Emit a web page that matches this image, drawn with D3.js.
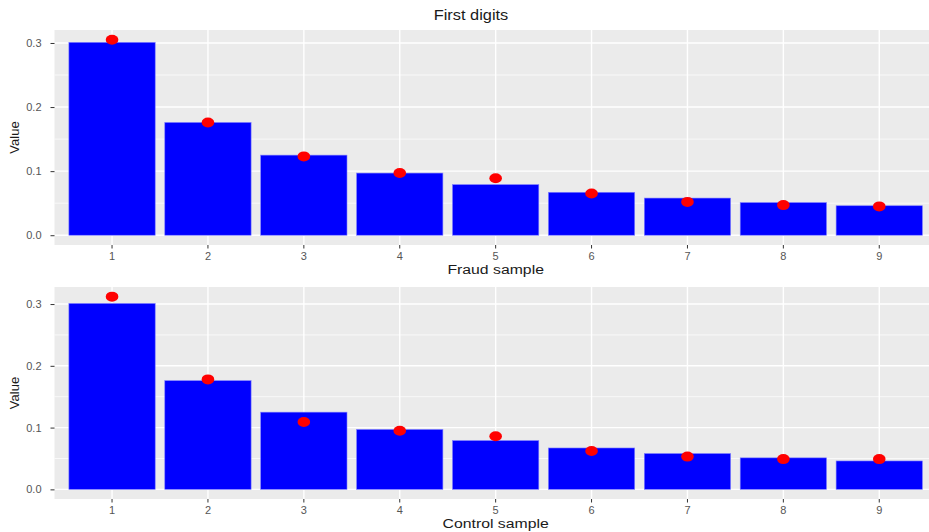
<!DOCTYPE html>
<html>
<head>
<meta charset="utf-8">
<script src="https://cdn.jsdelivr.net/npm/d3@7"></script>
<style>
  body { margin: 0; background: #fff; }
  svg { display: block; font-family: "Liberation Sans", Arial, sans-serif; }
</style>
</head>
<body>
<div id="chart"></div>
<script>
// data
let digits = ["1", "2", "3", "4", "5", "6", "7", "8", "9"];
let benford = [0.301, 0.176, 0.125, 0.097, 0.079, 0.067, 0.058, 0.051, 0.046];
let fraudObserved = [0.305, 0.176, 0.123, 0.097, 0.089, 0.065, 0.052, 0.047, 0.045];
let controlObserved = [0.312, 0.178, 0.109, 0.095, 0.086, 0.062, 0.053, 0.049, 0.049];
let yTicks = [0, 0.1, 0.2, 0.3];
let yMinor = [0.05, 0.15, 0.25];

let W = 929, H = 532;
let stretch = 1.17; // the reference is a little wider than tall

let svg = d3.select("#chart").append("svg")
    .attr("width", W)
    .attr("height", H);

function stretchedText(g, x, y, str, size) {
    return g.append("text")
        .attr("transform", "translate(" + x + "," + y + ") scale(" + stretch + ",1)")
        .attr("text-anchor", "middle")
        .attr("font-size", size)
        .attr("fill", "#1a1a1a")
        .text(str);
}

function drawPanel(top, bottom, observed, xTitle) {
    let left = 54.5, right = 936.8;

    let x = d3.scaleBand()
        .domain(digits)
        .range([left, right])
        .paddingInner(0.1)
        .paddingOuter(0.15);

    let ymax = d3.max(benford.concat(observed));
    let pad = ymax * 0.05;
    let y = d3.scaleLinear()
        .domain([-pad, ymax + pad])
        .range([bottom, top]);

    let g = svg.append("g");

    g.append("rect")
        .attr("x", left)
        .attr("y", top)
        .attr("width", right - left)
        .attr("height", bottom - top)
        .attr("fill", "#ebebeb");

    // grid
    g.selectAll(".minor").data(yMinor).enter().append("line")
        .attr("x1", left).attr("x2", right)
        .attr("y1", d => y(d)).attr("y2", d => y(d))
        .attr("stroke", "#fff").attr("stroke-width", 0.7);
    g.selectAll(".major").data(yTicks).enter().append("line")
        .attr("x1", left).attr("x2", right)
        .attr("y1", d => y(d)).attr("y2", d => y(d))
        .attr("stroke", "#fff").attr("stroke-width", 1.4);
    g.selectAll(".vgrid").data(digits).enter().append("line")
        .attr("x1", d => x(d) + x.bandwidth() / 2)
        .attr("x2", d => x(d) + x.bandwidth() / 2)
        .attr("y1", top).attr("y2", bottom)
        .attr("stroke", "#fff").attr("stroke-width", 1.4);

    // bars
    g.selectAll(".bar").data(benford).enter().append("rect")
        .attr("x", (d, i) => x(digits[i]))
        .attr("y", d => y(d))
        .attr("width", x.bandwidth())
        .attr("height", d => y(0) - y(d))
        .attr("fill", "#0000ff")
        .attr("stroke", "#8080ff")
        .attr("stroke-width", 0.6);

    // observed points
    g.selectAll(".pt").data(observed).enter().append("ellipse")
        .attr("cx", (d, i) => x(digits[i]) + x.bandwidth() / 2)
        .attr("cy", d => y(d))
        .attr("rx", 6.3)
        .attr("ry", 5)
        .attr("fill", "#ff0000");

    // axes
    let ax = g.append("g")
        .attr("transform", "translate(0," + bottom + ")")
        .call(d3.axisBottom(x).tickSize(3.5).tickPadding(4));
    ax.select(".domain").remove();
    ax.selectAll(".tick line").attr("stroke", "#333");
    ax.selectAll(".tick text")
        .attr("font-size", 11)
        .attr("fill", "#555")
        .attr("font-family", "Liberation Sans, Arial, sans-serif");

    let ay = g.append("g")
        .attr("transform", "translate(" + left + ",0)")
        .call(d3.axisLeft(y).tickValues(yTicks).tickFormat(d3.format(".1f")).tickSize(4).tickPadding(9));
    ay.select(".domain").remove();
    ay.selectAll(".tick line").attr("stroke", "#333");
    ay.selectAll(".tick text")
        .attr("font-size", 11)
        .attr("fill", "#555")
        .attr("font-family", "Liberation Sans, Arial, sans-serif");

    // titles
    stretchedText(g, (left + right) / 2, bottom + 29, xTitle, 13.5);

    g.append("text")
        .attr("transform", "translate(19," + ((top + bottom) / 2) + ") rotate(-90)")
        .attr("text-anchor", "middle")
        .attr("font-size", 13)
        .attr("fill", "#1a1a1a")
        .text("Value");
}

stretchedText(svg, 471, 20, "First digits", 14);
drawPanel(30, 245, fraudObserved, "Fraud sample");
drawPanel(287, 499, controlObserved, "Control sample");
</script>
</body>
</html>
